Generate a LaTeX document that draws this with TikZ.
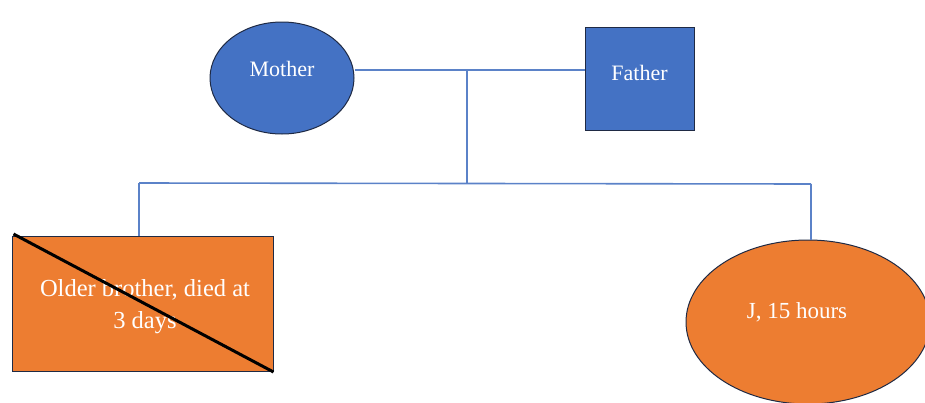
\documentclass[tikz,border=0pt]{standalone}
\usepackage{fontspec}
\setmainfont{Liberation Serif}
\usetikzlibrary{shapes.geometric}
\definecolor{pblue}{HTML}{4472C4}
\definecolor{pline}{HTML}{5B82C8}
\definecolor{porange}{HTML}{ED7D31}
\definecolor{pedge}{HTML}{1F2A44}
\tikzset{
  person/.style={draw=pedge, line width=1pt, text=white, inner sep=0pt, align=center},
  conn/.style={draw=pline, line width=1.6pt},
  label text/.style={text=white, inner sep=0pt, align=center},
}
\begin{document}
\begin{tikzpicture}[x=1pt,y=-1pt]
\useasboundingbox (0,0) rectangle (925,402);
\begin{scope}
\clip (0,0) rectangle (925,402);
\node[person, ellipse, fill=pblue, minimum width=144pt, minimum height=112pt, font=\fontsize{22}{26}\selectfont] (M) at (282,78) {\raisebox{18pt}{Mother}};
\node[person, rectangle, fill=pblue, minimum width=109pt, minimum height=103pt, font=\fontsize{22}{26}\selectfont] (F) at (639.5,78.5) {\raisebox{11pt}{Father}};
\node[person, rectangle, fill=porange, minimum width=261pt, minimum height=135pt] (B) at (142.5,304) {};
\node[label text, font=\fontsize{24.5}{32}\selectfont] (Bt) at (145,307) {Older brother, died at\\3 days};
\node[person, ellipse, fill=porange, minimum width=244pt, minimum height=164pt] (J) at (808,322) {};
\node[label text, font=\fontsize{23}{27}\selectfont] (Jt) at (797,312) {J, 15 hours};
\draw[line width=3pt, black] ([shift={(2,-2)}]B.north west) -- (B.south east);
\coordinate (top) at (467,70);
\coordinate (bar) at (467,183);
\coordinate (bl) at (139,183);
\coordinate (br) at (811,184);
\draw[conn] (M.east |- top) -- (F.west |- top);
\draw[conn] (top) -- (bar);
\draw[conn] (bl) -- (br);
\draw[conn] (bl) -- (bl |- B.north);
\draw[conn] (br) -- (br |- J.north);
\end{scope}
\end{tikzpicture}
\end{document}
